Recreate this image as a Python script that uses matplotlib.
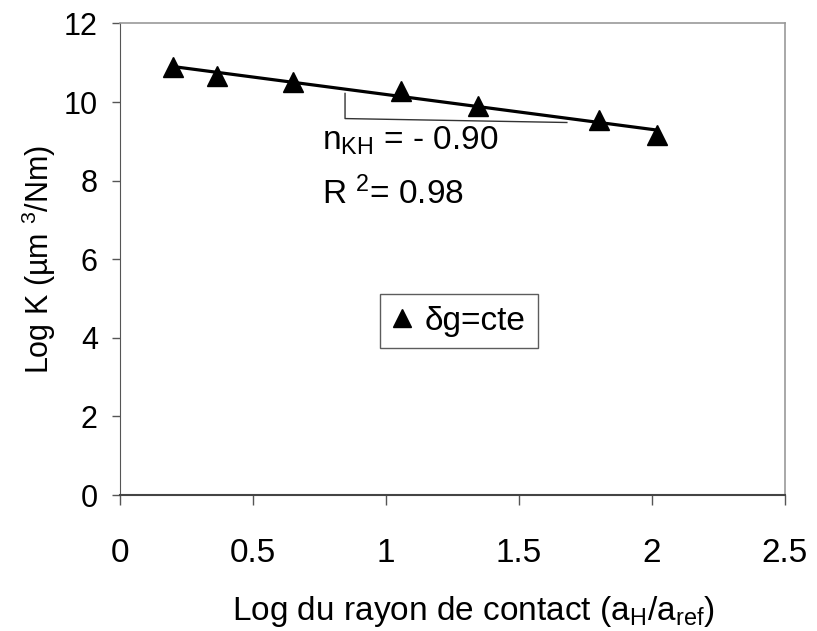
import numpy as np
import matplotlib
matplotlib.use("Agg")
import matplotlib.pyplot as plt

plt.rcParams['font.family'] = ['Liberation Sans', 'DejaVu Sans']
plt.rcParams['mathtext.fontset'] = 'custom'
plt.rcParams['mathtext.rm'] = 'Liberation Sans'
plt.rcParams['mathtext.it'] = 'Liberation Sans:italic'

# data
log_radius = [0.20, 0.365, 0.65, 1.055, 1.345, 1.80, 2.02]
log_K = [10.90, 10.67, 10.51, 10.27, 9.89, 9.55, 9.17]
x_ticks = [0, 0.5, 1, 1.5, 2, 2.5]
x_tick_labels = ["0", "0.5", "1", "1.5", "2", "2.5"]
y_ticks = [0, 2, 4, 6, 8, 10, 12]
y_tick_labels = ["0", "2", "4", "6", "8", "10", "12"]
series_label = "δg=cte"
slope_text = r"n$_{\rm KH}$ = - 0.90"
r2_text = r"R $^2$= 0.98"
# slope triangle guide (data coords)
tri_x = [0.846, 0.846, 1.68]
tri_y = [10.22, 9.58, 9.48]

fig = plt.figure(figsize=(8.17, 6.31), dpi=100)
ax = fig.add_axes([0.1469, 0.2155, 0.8139, 0.7473])

ax.plot(log_radius, log_K, linestyle='none', marker='^', markersize=14,
        color='black', label=series_label, zorder=3)
coef = np.polyfit(log_radius, log_K, 1)
xf = np.array([min(log_radius), max(log_radius)])
ax.plot(xf, np.polyval(coef, xf), color='black', linewidth=2.3, zorder=2)
ax.plot(tri_x, tri_y, color='#333333', linewidth=1.0, zorder=1)

ax.text(0.76, 8.78, slope_text, fontsize=24)
ax.text(0.76, 7.4, r2_text, fontsize=24)

ax.set_xlim(0, 2.5)
ax.set_ylim(0, 12)
ax.set_xticks(x_ticks)
ax.set_xticklabels(x_tick_labels)
ax.set_yticks(y_ticks)
ax.set_yticklabels(y_tick_labels)
ax.tick_params(axis='x', direction='out', length=7, width=1, colors='#555555',
               labelcolor='black', labelsize=24, pad=24)
ax.tick_params(axis='y', direction='out', length=6, width=1, colors='#555555',
               labelcolor='black', labelsize=22, pad=10)
for s in ['top', 'right']:
    ax.spines[s].set_color('#999999')
    ax.spines[s].set_linewidth(1.2)
ax.spines['left'].set_color('#555555')
ax.spines['bottom'].set_color('#444444')
ax.spines['bottom'].set_linewidth(1.5)

ax.set_ylabel("Log K (µm $^3$/Nm)", fontsize=22, labelpad=4)
fig.text((473) / 817, 1 - 620 / 631,
         r"Log du rayon de contact (a$_{\rm H}$/a$_{\rm ref}$)",
         fontsize=24, ha='center', va='baseline')

leg = ax.legend(loc='upper left', bbox_to_anchor=(0.391, 0.426), frameon=True,
                fancybox=False, fontsize=24, handlelength=0.6, handletextpad=0.4,
                borderpad=0.35, borderaxespad=0, markerscale=0.9)
leg.get_frame().set_edgecolor('#333333')
leg.get_frame().set_linewidth(1.0)

fig.savefig("out.png", dpi=100)
